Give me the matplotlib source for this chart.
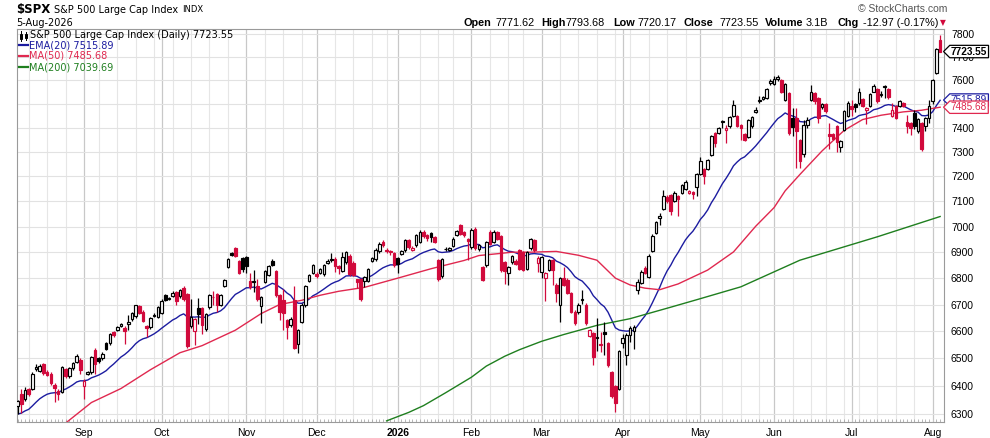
import numpy as np
import pandas as pd
import matplotlib
matplotlib.use("Agg")
import matplotlib.pyplot as plt
from matplotlib.path import Path
from matplotlib.patches import Rectangle
from matplotlib.lines import Line2D
from matplotlib.ticker import FixedLocator, NullLocator, NullFormatter
from matplotlib.transforms import blended_transform_factory

# trading days shown on the chart (6-Aug-2025 .. 5-Aug-2026)
holidays = ["2025-09-01", "2025-11-27", "2025-12-25", "2026-01-01", "2026-01-19",
            "2026-02-16", "2026-04-03", "2026-05-25", "2026-06-19", "2026-07-03"]
days = pd.bdate_range("2025-08-06", "2026-08-05")
days = days[~days.isin(pd.to_datetime(holidays))]

# daily OHLC
opens = [6330, 6372, 6352, 6388, 6390, 6462, 6455, 6480, 6452, 6445, 6402, 6382, 6378, 6460, 6435, 6466, 6487, 6493,
         6400, 6445, 6452, 6532, 6502, 6500, 6555, 6557, 6596, 6604, 6620, 6612, 6628, 6647, 6656, 6694, 6673, 6618,
         6617, 6658, 6655, 6669, 6735, 6722, 6732, 6748, 6731, 6762, 6741, 6620, 6600, 6688, 6688, 6610, 6691, 6728,
         6741, 6700, 6770, 6844, 6897, 6915, 6864, 6876, 6880, 6791, 6785, 6770, 6695, 6785, 6812, 6866, 6829, 6735,
         6716, 6641, 6622, 6716, 6553, 6635, 6697, 6791, 6820, 6815, 6820, 6816, 6857, 6873, 6875, 6845, 6828, 6862,
         6887, 6859, 6795, 6797, 6791, 6791, 6867, 6872, 6903, 6940, 6910, 6903, 6897, 6877, 6894, 6907, 6946, 6910,
         6926, 6940, 6979, 6968, 6973, 6960, 6870, 6808, 6911, 6910, 6924, 6968, 7005, 6980, 6950, 6920, 6992, 6913,
         6842, 6849, 6979, 6940, 6979, 6963, 6861, 6820, 6861, 6867, 6907, 6900, 6836, 6916, 6946, 6860, 6825, 6802,
         6831, 6869, 6774, 6700, 6800, 6794, 6742, 6672, 6672, 6718, 6700, 6583, 6592, 6574, 6554, 6598, 6555, 6450,
         6400, 6390, 6558, 6513, 6585, 6601, 6756, 6781, 6840, 6806, 6906, 6975, 7035, 7070, 7118, 7124, 7101, 7121,
         7134, 7148, 7132, 7137, 7159, 7210, 7232, 7232, 7288, 7378, 7378, 7424, 7389, 7405, 7450, 7447, 7412, 7375,
         7361, 7405, 7464, 7512, 7519, 7524, 7590, 7585, 7605, 7600, 7515, 7545, 7440, 7440, 7350, 7290, 7410, 7518,
         7545, 7525, 7485, 7500, 7375, 7372, 7405, 7320, 7390, 7450, 7490, 7500, 7503, 7519, 7472, 7489, 7552, 7561,
         7538, 7570, 7562, 7448, 7490, 7489, 7503, 7422, 7420, 7462, 7385, 7420, 7405, 7440, 7510, 7630, 7771.62]
highs = [6350, 6390, 6395, 6392, 6450, 6478, 6480, 6485, 6458, 6450, 6410, 6390, 6472, 6465, 6470, 6488, 6515, 6500,
         6425, 6455, 6510, 6540, 6505, 6522, 6560, 6595, 6600, 6620, 6632, 6618, 6660, 6672, 6700, 6698, 6678, 6625,
         6652, 6668, 6695, 6720, 6740, 6730, 6750, 6752, 6760, 6770, 6745, 6722, 6648, 6725, 6692, 6670, 6740, 6750,
         6745, 6740, 6798, 6878, 6900, 6919, 6868, 6880, 6885, 6820, 6832, 6797, 6732, 6833, 6850, 6872, 6833, 6740,
         6757, 6645, 6655, 6770, 6608, 6705, 6775, 6816, 6855, 6822, 6840, 6855, 6872, 6895, 6880, 6850, 6900, 6905,
         6892, 6864, 6798, 6800, 6808, 6840, 6882, 6915, 6938, 6946, 6915, 6910, 6902, 6882, 6908, 6952, 6952, 6925,
         6972, 6988, 6986, 6972, 6977, 6963, 6875, 6878, 6920, 6922, 6958, 6988, 7010, 6983, 6955, 6994, 6997, 6932,
         6847, 6945, 6988, 6985, 6984, 6968, 6866, 6846, 6889, 6872, 6912, 6905, 6905, 6956, 6951, 6885, 6885, 6822,
         6875, 6875, 6780, 6805, 6843, 6800, 6748, 6678, 6705, 6755, 6705, 6608, 6597, 6650, 6597, 6635, 6560, 6455,
         6405, 6532, 6590, 6592, 6618, 6622, 6795, 6830, 6845, 6892, 6972, 7022, 7052, 7145, 7125, 7128, 7140, 7125,
         7170, 7185, 7145, 7142, 7213, 7280, 7236, 7270, 7369, 7384, 7404, 7432, 7410, 7450, 7517, 7452, 7417, 7380,
         7438, 7449, 7485, 7535, 7535, 7566, 7605, 7620, 7622, 7605, 7590, 7550, 7482, 7482, 7355, 7430, 7445, 7578,
         7550, 7530, 7505, 7505, 7420, 7378, 7410, 7350, 7475, 7510, 7515, 7505, 7565, 7525, 7487, 7546, 7583, 7566,
         7555, 7580, 7568, 7503, 7495, 7515, 7508, 7455, 7425, 7475, 7440, 7425, 7445, 7515, 7605, 7740, 7793.68]
lows = [6300, 6305, 6345, 6365, 6385, 6455, 6450, 6440, 6435, 6405, 6342, 6350, 6375, 6430, 6430, 6458, 6482, 6445,
        6355, 6440, 6445, 6445, 6485, 6495, 6530, 6550, 6580, 6600, 6615, 6552, 6605, 6640, 6650, 6665, 6635, 6578,
        6610, 6652, 6650, 6665, 6712, 6718, 6728, 6700, 6725, 6715, 6540, 6612, 6550, 6628, 6591, 6600, 6685, 6697,
        6672, 6695, 6765, 6840, 6885, 6880, 6815, 6822, 6820, 6760, 6747, 6715, 6632, 6780, 6808, 6846, 6730, 6641,
        6604, 6572, 6615, 6535, 6519, 6630, 6692, 6786, 6815, 6800, 6815, 6810, 6853, 6862, 6825, 6815, 6822, 6856,
        6810, 6808, 6762, 6715, 6765, 6786, 6862, 6866, 6898, 6922, 6895, 6890, 6843, 6820, 6889, 6902, 6914, 6904,
        6920, 6935, 6957, 6945, 6940, 6935, 6790, 6800, 6905, 6905, 6919, 6962, 6966, 6960, 6870, 6914, 6910, 6905,
        6788, 6843, 6928, 6934, 6948, 6825, 6778, 6775, 6856, 6850, 6830, 6826, 6830, 6910, 6902, 6825, 6800, 6713,
        6826, 6775, 6710, 6635, 6770, 6738, 6668, 6624, 6666, 6703, 6624, 6578, 6475, 6527, 6524, 6512, 6470, 6358,
        6306, 6385, 6540, 6475, 6560, 6535, 6740, 6776, 6815, 6802, 6900, 6970, 7005, 7065, 7095, 7044, 7098, 7041,
        7130, 7144, 7128, 7108, 7121, 7205, 7171, 7227, 7284, 7320, 7374, 7398, 7336, 7400, 7446, 7404, 7350, 7346,
        7357, 7400, 7460, 7505, 7515, 7520, 7580, 7580, 7598, 7545, 7510, 7370, 7365, 7235, 7235, 7280, 7400, 7512,
        7500, 7420, 7478, 7462, 7310, 7348, 7300, 7300, 7385, 7445, 7450, 7465, 7495, 7485, 7415, 7485, 7548, 7505,
        7530, 7525, 7522, 7445, 7435, 7485, 7485, 7378, 7370, 7395, 7380, 7305, 7385, 7420, 7500, 7625, 7720.17]
closes = [6345, 6335, 6385, 6370, 6445, 6468, 6471, 6447, 6441, 6410, 6392, 6370, 6468, 6435, 6466, 6484, 6508, 6459,
          6418, 6450, 6505, 6480, 6490, 6517, 6535, 6590, 6585, 6616, 6627, 6600, 6634, 6668, 6697, 6670, 6640, 6613,
          6648, 6662, 6690, 6715, 6718, 6726, 6744, 6715, 6755, 6722, 6547, 6653, 6645, 6666, 6625, 6666, 6735, 6730,
          6697, 6735, 6794, 6873, 6890, 6885, 6820, 6835, 6848, 6766, 6790, 6722, 6729, 6829, 6845, 6850, 6735, 6672,
          6670, 6616, 6645, 6540, 6604, 6700, 6770, 6812, 6850, 6808, 6835, 6850, 6866, 6868, 6848, 6838, 6882, 6900,
          6817, 6812, 6785, 6722, 6804, 6836, 6877, 6910, 6933, 6928, 6906, 6899, 6849, 6855, 6903, 6946, 6920, 6918,
          6966, 6979, 6963, 6955, 6958, 6940, 6797, 6874, 6913, 6916, 6953, 6982, 6972, 6968, 6945, 6988, 6916, 6926,
          6794, 6940, 6933, 6979, 6953, 6830, 6826, 6842, 6884, 6855, 6836, 6832, 6900, 6950, 6907, 6878, 6881, 6819,
          6869, 6831, 6742, 6800, 6775, 6742, 6672, 6629, 6700, 6721, 6629, 6604, 6506, 6578, 6550, 6590, 6475, 6363,
          6338, 6527, 6576, 6586, 6612, 6616, 6787, 6825, 6819, 6885, 6965, 7017, 7041, 7121, 7101, 7061, 7134, 7108,
          7164, 7177, 7140, 7128, 7208, 7262, 7203, 7265, 7364, 7337, 7398, 7427, 7398, 7444, 7496, 7408, 7398, 7350,
          7433, 7444, 7475, 7515, 7528, 7561, 7595, 7605, 7612, 7552, 7585, 7378, 7403, 7385, 7262, 7410, 7430, 7552,
          7510, 7440, 7500, 7468, 7365, 7355, 7340, 7345, 7468, 7505, 7480, 7487, 7551, 7489, 7482, 7541, 7575, 7510,
          7542, 7575, 7528, 7472, 7440, 7510, 7490, 7408, 7400, 7405, 7435, 7312, 7440, 7489, 7600, 7735, 7723.55]

# EMA(20) value on the first visible day
ema_start = 6300

# 50-day and 200-day averages (day index, value)
ma50_day = [13, 20, 28, 36, 44, 50, 59, 66, 71, 77, 82, 87, 94, 103, 112, 121, 125, 130, 134, 139, 146, 152,
            157, 162, 166, 170, 174, 179, 187, 194, 200, 205, 208, 212, 218, 224, 229, 234, 240, 245, 250]
ma50_val = [6268, 6341, 6391, 6459, 6521, 6547, 6604, 6666, 6700, 6716, 6735, 6750, 6765, 6800, 6836, 6868, 6887,
            6894, 6900, 6900, 6903, 6888, 6869, 6800, 6774, 6762, 6756, 6778, 6831, 6901, 7001, 7075, 7142, 7208,
            7304, 7389, 7434, 7452, 7466, 7473, 7485.68]
ma200_day = [100, 104, 106, 110, 116, 123, 127, 132, 136, 142, 148, 157, 166, 177, 184, 196, 212, 233, 250]
ma200_val = [6276, 6296, 6306, 6330, 6376, 6432, 6472, 6508, 6532, 6563, 6588, 6622, 6647, 6690, 6718, 6767,
             6869, 6960, 7039.69]

y_ticks = [6300, 6400, 6500, 6600, 6700, 6800, 6900, 7000, 7100, 7200, 7300, 7400, 7500, 7600, 7700, 7800]

RED = "#d10a3c"
BLACK = "#000000"
EMA_C = "#1c1ca0"
MA50_C = "#e0284f"
MA200_C = "#1f7f1f"

o = np.array(opens, float)
h = np.array(highs, float)
l = np.array(lows, float)
c = np.array(closes, float)
n = len(c)
idx = np.arange(n)

ema = [ema_start]
for v in c[1:]:
    ema.append(ema[-1] + (v - ema[-1]) * 2 / 21)

W, H = 990, 438
fig = plt.figure(figsize=(9.9, 4.38), dpi=100, facecolor="white")
ax = fig.add_axes([16.5 / W, 16 / H, 927.5 / W, 393 / H])


def fx(x):
    return x / W


def fy(y):
    return 1 - y / H


ax.set_yscale("log")
ax.set_ylim(6272, 7822)
ax.set_xlim(-0.3, 251.05)

# grid: weekly light lines, month lines darker
month_first = [i for i in range(1, n) if days[i].month != days[i - 1].month]
week_first = [i for i in range(1, n) if days[i].isocalendar()[1] != days[i - 1].isocalendar()[1]]
for i in week_first:
    if any(0 <= i - m <= 1 for m in month_first):
        continue
    ax.axvline(i, color="#e6e6e6", lw=0.8, zorder=0)
for m in month_first:
    ax.axvline(m, color="#c8c8c8", lw=0.9, zorder=0)
for t in y_ticks:
    ax.axhline(t, color="#e2e2e2", lw=0.8, zorder=0)

# candles
prev = np.r_[o[0], c[:-1]]
col = np.where(c < prev, RED, BLACK)
up = c >= o
lo = np.minimum(o, c)
hi = np.maximum(o, c)
ax.vlines(idx, l, h, colors=col, lw=0.9, zorder=3)
ax.bar(idx, hi - lo, bottom=lo, width=0.7, color=np.where(up, "white", col),
       edgecolor=col, linewidth=0.85, zorder=4)

ax.plot(idx, ema, color=EMA_C, lw=1.0, zorder=2)
ax.plot(ma50_day, ma50_val, color=MA50_C, lw=1.0, zorder=2)
ax.plot(ma200_day, ma200_val, color=MA200_C, lw=1.0, zorder=2)

# axes cosmetics
for s in ax.spines.values():
    s.set_color("#9a9a9a")
    s.set_linewidth(0.8)
ax.yaxis.tick_right()
ax.yaxis.set_major_locator(FixedLocator(y_ticks))
ax.yaxis.set_minor_locator(NullLocator())
ax.yaxis.set_minor_formatter(NullFormatter())
ax.set_yticklabels([str(t) for t in y_ticks], fontfamily="Liberation Sans", fontsize=7.5)
ax.tick_params(axis="y", length=0, pad=5)

labels = []
for m in month_first:
    labels.append("2026" if days[m].month == 1 else days[m].strftime("%b"))
ax.set_xticks(month_first)
ax.set_xticklabels(labels, fontfamily="Liberation Sans", fontsize=7.5)
for lab in ax.get_xticklabels():
    if lab.get_text() == "2026":
        lab.set_fontweight("bold")
ax.set_xticks(idx, minor=True)
ax.tick_params(axis="x", which="major", length=0, pad=4)
ax.tick_params(axis="x", which="minor", direction="in", length=2, width=0.5, color="#9a9a9a")


# value tags on the right
def tag_box(x0, y0, width, height, mutation_size):
    pad = 0.12 * mutation_size
    x0, y0 = x0 - pad, y0 - pad
    x1, y1 = x0 + width + 2 * pad, y0 + height + 2 * pad
    tip = (y1 - y0) / 2
    return Path([(x0, y0), (x1, y0), (x1, y1), (x0, y1), (x0 - tip, y0 + tip), (x0, y0)], closed=True)


btr = blended_transform_factory(ax.transAxes, ax.transData)
tag_x = 1.0075
ax.text(tag_x, 7515.89, "7515.89", transform=btr, va="center", ha="left", color=EMA_C,
        fontfamily="Liberation Sans", fontsize=7.2, zorder=5, clip_on=False,
        bbox=dict(boxstyle=tag_box, fc="white", ec=EMA_C, lw=0.9))
ax.text(tag_x, 7485.68, "7485.68", transform=btr, va="center", ha="left", color=MA50_C,
        fontfamily="Liberation Sans", fontsize=7.2, zorder=6, clip_on=False,
        bbox=dict(boxstyle=tag_box, fc="white", ec=MA50_C, lw=0.9))
ax.text(tag_x, 7723.55, "7723.55", transform=btr, va="center", ha="left", color="black",
        fontfamily="Liberation Sans", fontsize=7.2, fontweight="bold", zorder=6, clip_on=False,
        bbox=dict(boxstyle=tag_box, fc="white", ec="black", lw=0.9))

# header
fig.text(fx(16), fy(10), "$SPX", fontsize=8.5, fontweight="bold", va="center")
fig.text(fx(54), fy(10), "S&P 500 Large Cap Index", fontsize=7, va="center")
fig.text(fx(182), fy(10), "INDX", fontsize=6, va="center")
fig.text(fx(16), fy(22.5), "5-Aug-2026", fontsize=7, va="center")
fig.text(fx(858), fy(9), "\u00a9 StockCharts.com", fontsize=7.5, color="#555555", va="center",
         fontfamily="Liberation Sans")
head = [(463, "Open", True), (495, "7771.62", False), (541, "High", True), (565, "7793.68", False),
        (613, "Low", True), (638, "7720.17", False), (684, "Close", True), (719, "7723.55", False),
        (765, "Volume", True), (806, "3.1B", False), (838, "Chg", True), (863, "-12.97 (-0.17%)", False)]
for x, s, b in head:
    fig.text(fx(x), fy(23), s, fontsize=7.8, fontweight="bold" if b else "normal", va="center",
             fontfamily="Liberation Sans")
fig.text(fx(940), fy(23), "\u25bc", fontsize=5.5, color=RED, va="center")

# legend inside the plot
fig.add_artist(Rectangle((fx(19.5), fy(39)), 2.5 / W, 5 / H, fc="white", ec="black", lw=0.7))
fig.add_artist(Line2D([fx(20.75), fx(20.75)], [fy(31), fy(40.5)], color="black", lw=0.7))
fig.add_artist(Rectangle((fx(24.5), fy(38)), 2.5 / W, 4 / H, fc="black", ec="black", lw=0.7))
fig.add_artist(Line2D([fx(25.75), fx(25.75)], [fy(32), fy(39.5)], color="black", lw=0.7))
fig.text(fx(30), fy(35.5), "S&P 500 Large Cap Index (Daily) 7723.55", fontsize=7, va="center")
for yy, s, cc in [(45, "EMA(20) 7515.89", EMA_C), (56, "MA(50) 7485.68", MA50_C), (67, "MA(200) 7039.69", MA200_C)]:
    fig.add_artist(Line2D([fx(18.5), fx(28)], [fy(yy), fy(yy)], color=cc, lw=1.6))
    fig.text(fx(29), fy(yy), s, fontsize=7, color=cc, va="center")

fig.savefig("out.png", dpi=100, facecolor="white")
